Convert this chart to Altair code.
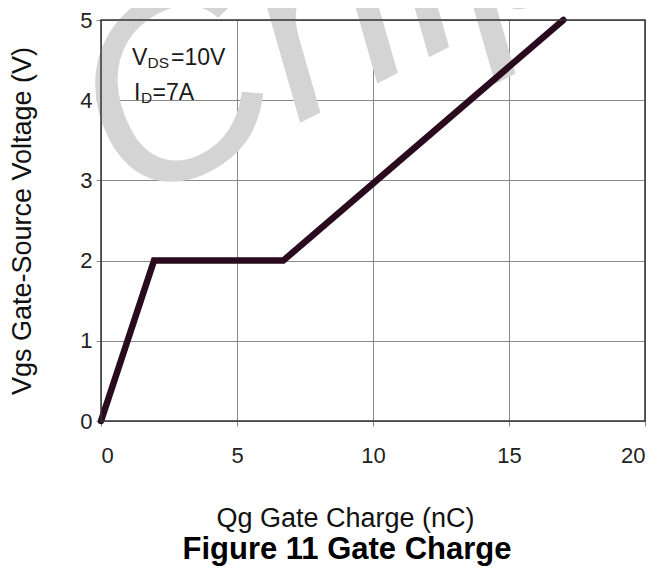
import altair as alt
import pandas as pd

# Data
qg = [0.0, 1.95, 6.7, 17.0]          # gate charge (nC)
vgs = [0.0, 2.0, 2.0, 5.0]           # gate-source voltage (V)
x_ticks = [0, 5, 10, 15, 20]
y_ticks = [0, 1, 2, 3, 4, 5]

W, H = 544, 401
FONT = "Liberation Sans, Arial, sans-serif"
LINE_COLOR = "#2a0a1e"

df = pd.DataFrame({"qg": qg, "vgs": vgs})

x_enc = alt.X("qg:Q", scale=alt.Scale(domain=[0, 20], nice=False),
              axis=alt.Axis(values=x_ticks, title="Qg Gate Charge (nC)",
                            titleY=97, titleX=244, titleAlign="center",
                            titleBaseline="middle"))
y_enc = alt.Y("vgs:Q", scale=alt.Scale(domain=[0, 5], nice=False),
              axis=alt.Axis(values=y_ticks, title="Vgs Gate-Source Voltage (V)",
                            titleX=-79, titleBaseline="middle"))

line = alt.Chart(df).mark_line(color=LINE_COLOR, strokeWidth=6.5, strokeCap="round",
                               strokeJoin="miter").encode(x=x_enc, y=y_enc)

# watermark
wm = alt.Chart(pd.DataFrame({"t": ["Chip"]})).mark_text(
    font=FONT, fontSize=260, fontStyle="italic", color="#d4d4d4",
    align="left", baseline="alphabetic", angle=333
).encode(x=alt.value(28), y=alt.value(190), text="t:N")

# condition annotations (with subscripts)
ann_df = pd.DataFrame({
    "t": ["V", "DS", "=10V", "I", "D", "=7A"],
    "px": [31, 46.5, 70, 33, 40, 51.5],
    "py": [45, 47.5, 45, 80, 82.5, 80],
    "fs": [23, 15.5, 23, 23, 15.5, 23],
})
ann = alt.Chart(ann_df).mark_text(
    font=FONT, color="#1a1a1a", align="left", baseline="alphabetic"
).encode(x=alt.X("px:Q", scale=None), y=alt.Y("py:Q", scale=None),
         text="t:N", size=alt.Size("fs:Q", scale=None, legend=None))

fig_title = alt.Chart(pd.DataFrame({"t": ["Figure 11 Gate Charge"]})).mark_text(
    font=FONT, fontSize=31, fontWeight="bold", color="#000000",
    align="center", baseline="middle"
).encode(x=alt.value(246), y=alt.value(530), text="t:N")

frame = alt.Chart(pd.DataFrame({"a": [0]})).mark_rect(
    fill=None, stroke="#333333", strokeWidth=1.5
).encode(x=alt.value(0), x2=alt.value(W), y=alt.value(0), y2=alt.value(H))

chart = alt.layer(wm, ann, line, frame, fig_title).properties(
    width=W, height=H,
    autosize=alt.AutoSizeParams(type="none"),
    padding={"left": 93, "top": 12, "right": 14, "bottom": 148},
).configure_view(stroke=None).configure_axis(
    labelFont=FONT, labelFontSize=22, labelColor="#222222",
    titleFont=FONT, titleFontSize=27, titleFontWeight="normal", titleColor="#111111",
    grid=True, gridColor="#8a8a8a", gridWidth=1,
    domain=False, tickColor="#8a8a8a", tickSize=5, tickWidth=1,
).configure_axisX(labelPadding=19).configure_axisY(labelPadding=4)

chart.save("out.html", embed_options={"renderer": "svg", "actions": False})
